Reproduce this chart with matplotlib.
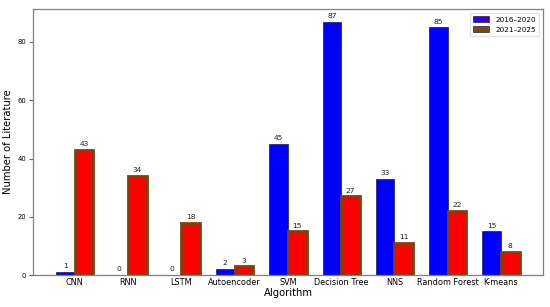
import numpy as np
import matplotlib.pyplot as plt
from matplotlib.patches import Patch

# data
algorithms = ["CNN", "RNN", "LSTM", "Autoencoder", "SVM", "Decision Tree",
              "NNS", "Random Forest", "K-means"]
counts_2016_2020 = [1, 0, 0, 2, 45, 87, 33, 85, 15]
counts_2021_2025 = [43, 34, 18, 3, 15, 27, 11, 22, 8]
series_labels = ["2016\u20132020", "2021\u20132025"]

x = np.arange(len(algorithms))
width = 0.35

fig, ax = plt.subplots(figsize=(5.5, 3.07), dpi=100)
fig.subplots_adjust(left=0.06, right=0.987, bottom=0.104, top=0.971)

bars1 = ax.bar(x - width / 2, counts_2016_2020, width, color="#0000ff",
               edgecolor="#1a1a40", linewidth=0.5)
bars2 = ax.bar(x + width / 2, counts_2021_2025, width, color="#ff0000",
               edgecolor="#7a4410", linewidth=2.0)

for bars in (bars1, bars2):
    for b in bars:
        h = b.get_height()
        ax.annotate(f"{int(h)}", (b.get_x() + b.get_width() / 2, h),
                    xytext=(0, 2), textcoords="offset points",
                    ha="center", va="bottom", fontsize=5.4, color="#222222")

ax.set_xticks(x)
ax.set_xticklabels(algorithms, fontsize=5.9)
ax.tick_params(axis="y", labelsize=4.9, length=3, color="#666666", pad=2)
ax.tick_params(axis="x", length=0, pad=2)
ax.set_xlabel("Algorithm", fontsize=7.2, labelpad=1)
ax.set_ylabel("Number of Literature", fontsize=7.2, labelpad=3)
ax.set_yticks([0, 20, 40, 60, 80])

for s in ax.spines.values():
    s.set_color("#808080")
    s.set_linewidth(0.9)

handles = [Patch(facecolor="#3300ee", edgecolor="#222222", linewidth=0.5),
           Patch(facecolor="#7b4a12", edgecolor="#222222", linewidth=0.5)]
ax.legend(handles, series_labels, loc="upper right", fontsize=5.2,
          frameon=True, edgecolor="#dddddd", handlelength=2.2,
          handleheight=0.9, borderpad=0.5)

fig.savefig("out.png", dpi=100)
